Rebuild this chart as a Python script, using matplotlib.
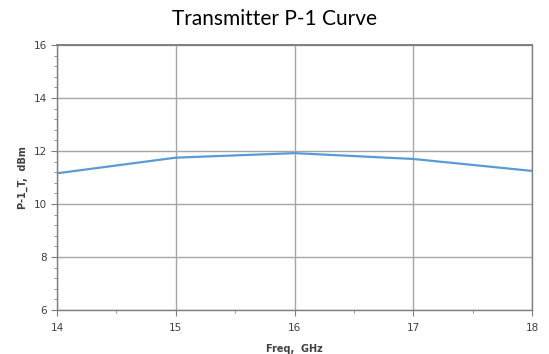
import matplotlib
matplotlib.use('Agg')
import matplotlib.pyplot as plt
from matplotlib.ticker import MultipleLocator

# Data
freq = [14, 15, 16, 17, 18]
p1_t = [11.16, 11.75, 11.92, 11.70, 11.25]

fig = plt.figure(figsize=(5.49, 3.54), dpi=100)
ax = fig.add_axes([0.104, 0.124, 0.865, 0.749])

ax.plot(freq, p1_t, color='#5b9bd5', linewidth=1.6)

ax.set_xlim(14, 18)
ax.set_ylim(6, 16)
ax.xaxis.set_major_locator(MultipleLocator(1))
ax.xaxis.set_minor_locator(MultipleLocator(0.5))
ax.yaxis.set_major_locator(MultipleLocator(2))
ax.yaxis.set_minor_locator(MultipleLocator(0.4))

ax.grid(True, which='major', color='#a6a6a6', linewidth=1.0)
ax.set_axisbelow(True)

for side in ['left', 'bottom', 'top', 'right']:
    ax.spines[side].set_color('#7f7f7f')
    ax.spines[side].set_linewidth(1.0)
ax.spines['top'].set_linewidth(1.4)

ax.tick_params(which='major', direction='out', length=4, color='#7f7f7f',
               labelsize=7.5, labelcolor='#404040')
ax.tick_params(which='minor', direction='out', length=2.5, color='#7f7f7f')
ax.tick_params(axis='x', pad=5)

ax.set_xlabel('Freq,  GHz', fontsize=7, fontweight='bold', color='#404040', labelpad=8)
ax.set_ylabel('P-1_T,  dBm', fontsize=7, fontweight='bold', color='#404040', labelpad=4)

fig.text(0.5, 0.945, 'Transmitter P-1 Curve', ha='center', va='center',
         fontsize=15, family='Lato', color='black')

plt.savefig('out.png', dpi=100)
